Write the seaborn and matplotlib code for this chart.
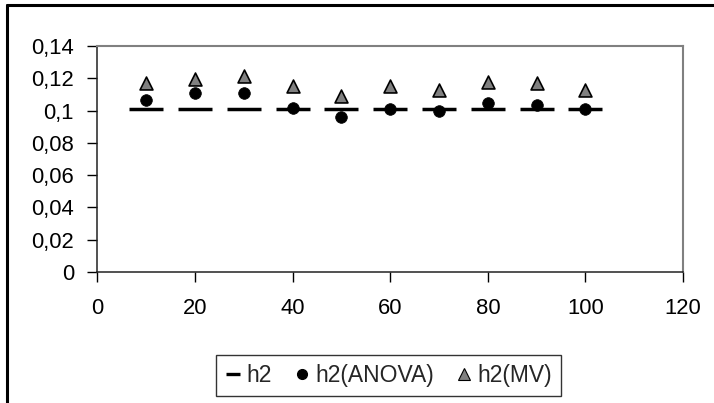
import matplotlib
matplotlib.use("Agg")
import matplotlib.pyplot as plt
from matplotlib.lines import Line2D
import seaborn as sns
import pandas as pd

# Data
x_vals = [10, 20, 30, 40, 50, 60, 70, 80, 90, 100]
h2 = [0.1008, 0.1008, 0.1008, 0.1008, 0.1008, 0.1008, 0.1008, 0.1008, 0.1008, 0.1008]
h2_anova = [0.1066, 0.1107, 0.1107, 0.1018, 0.0958, 0.1008, 0.0997, 0.1045, 0.1035, 0.1008]
h2_mv = [0.1169, 0.1194, 0.1216, 0.1154, 0.1092, 0.1154, 0.1128, 0.1175, 0.1169, 0.1128]
series_names = ["h2", "h2(ANOVA)", "h2(MV)"]
x_ticks = [0, 20, 40, 60, 80, 100, 120]
y_ticks = [0, 0.02, 0.04, 0.06, 0.08, 0.1, 0.12, 0.14]
y_ticklabels = ["0", "0,02", "0,04", "0,06", "0,08", "0,1", "0,12", "0,14"]

sns.set_style("white")
plt.rcParams["font.family"] = ["Liberation Sans", "DejaVu Sans"]

W, H = 714, 403
fig = plt.figure(figsize=(W / 100, H / 100), dpi=100)
ax = fig.add_axes([97.5 / W, 1 - 272 / H, (683 - 97.5) / W, (272 - 46) / H])

df = pd.DataFrame({"x": x_vals, "h2": h2, "anova": h2_anova, "mv": h2_mv})

sns.scatterplot(data=df, x="x", y="h2", marker="_", s=24 ** 2, color="black",
                linewidth=2.5, ax=ax, legend=False, zorder=2)
sns.scatterplot(data=df, x="x", y="anova", marker="o", s=8.4 ** 2, color="black",
                edgecolor="black", linewidth=0.5, ax=ax, legend=False, zorder=3)
sns.scatterplot(data=df, x="x", y="mv", marker="^", s=9.3 ** 2, color="#808080",
                edgecolor="black", linewidth=1.2, ax=ax, legend=False, zorder=3)

ax.set_xlim(0, 120)
ax.set_ylim(0, 0.14)
ax.set_xticks(x_ticks)
ax.set_xticklabels([str(v) for v in x_ticks])
ax.set_yticks(y_ticks)
ax.set_yticklabels(y_ticklabels)
ax.set_xlabel("")
ax.set_ylabel("")
ax.tick_params(axis="both", which="major", direction="out", length=7, width=1,
               color="black", labelsize=15.8, labelcolor="black",
               left=True, bottom=True)
ax.tick_params(axis="x", pad=12)
ax.tick_params(axis="y", pad=10)
for s in ["left", "bottom"]:
    ax.spines[s].set_color("#222222")
    ax.spines[s].set_linewidth(1.1)
for s in ["top", "right"]:
    ax.spines[s].set_color("#808080")
    ax.spines[s].set_linewidth(1.5)
    ax.spines[s].set_visible(True)

handles = [
    Line2D([], [], linestyle="none", marker="_", markersize=10, markeredgewidth=2.4, color="black"),
    Line2D([], [], linestyle="none", marker="o", markersize=7, color="black"),
    Line2D([], [], linestyle="none", marker="^", markersize=8.5, markerfacecolor="#808080",
           markeredgecolor="black", markeredgewidth=0.8),
]
leg = fig.legend(handles, series_names, loc="center", ncol=3,
                 bbox_to_anchor=((214 + 563) / 2 / W, 1 - 375.5 / H),
                 frameon=True, fancybox=False, fontsize=16.5, handlelength=0.75,
                 handletextpad=0.2, columnspacing=0.95, borderpad=0.4,
                 borderaxespad=0)
leg.get_frame().set_edgecolor("black")
leg.get_frame().set_linewidth(1.0)

# outer chart border (left and top visible)
fig.add_artist(Line2D([6.5 / W, 6.5 / W], [0, 1 - 5 / H], transform=fig.transFigure,
                      color="black", linewidth=2.2))
fig.add_artist(Line2D([6.5 / W, 1], [1 - 5 / H, 1 - 5 / H], transform=fig.transFigure,
                      color="black", linewidth=2.2))

fig.savefig("out.png", dpi=100)
